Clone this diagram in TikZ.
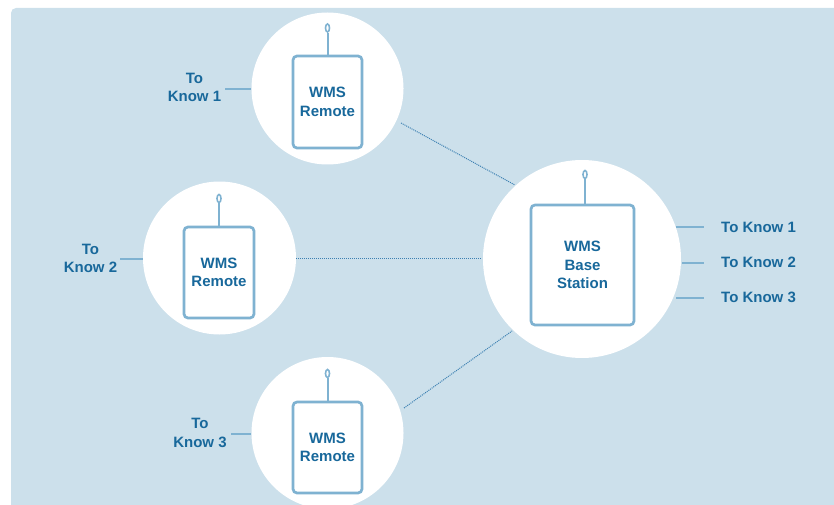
\documentclass[tikz,border=0pt]{standalone}
\usepackage{fontspec}
\setmainfont{Liberation Sans}
\usetikzlibrary{shapes.geometric,calc}
\definecolor{bgblue}{HTML}{CCE0EB}
\definecolor{txtblue}{HTML}{18689B}
\definecolor{boxblue}{HTML}{7FB2D1}
\definecolor{dotblue}{HTML}{3C80B2}
\tikzset{
  disc/.style={circle, fill=white, draw=none, inner sep=0pt},
  unit/.style={draw=boxblue, line width=2.7pt, rounded corners=4pt, fill=white,
    inner sep=0pt, font=\fontsize{15}{18.5}\selectfont\bfseries, text=txtblue, align=center},
  tip/.style={ellipse, draw=boxblue, line width=1.6pt, fill=white, minimum width=4pt, minimum height=8pt, inner sep=0pt},
  ant/.style={draw=boxblue, line width=2pt},
  lbl/.style={font=\fontsize{15}{18.5}\selectfont\bfseries, text=txtblue, align=center, inner sep=0pt},
  lk/.style={draw=boxblue, line width=2.4pt},
  link/.style={draw=dotblue, line width=1pt, dash pattern=on 1pt off 1pt},
}
\begin{document}
\begin{tikzpicture}[x=1pt,y=-1pt]
\useasboundingbox (0,0) rectangle (834,505);
\fill[bgblue, rounded corners=5pt] (11,8) rectangle (850,520);
% circles
\node[disc, minimum size=152pt] (c1) at (327.5,88.5) {};
\node[disc, minimum size=153pt] (c2) at (219.5,258) {};
\node[disc, minimum size=152pt] (c3) at (327.5,433) {};
\node[disc, minimum size=198pt] (cb) at (582,259) {};
% boxes
\node[unit, minimum width=69pt, minimum height=92pt] (b1) at (327.5,102) {WMS\\Remote};
\node[unit, minimum width=70pt, minimum height=91pt] (b2) at (219,272.5) {WMS\\Remote};
\node[unit, minimum width=69pt, minimum height=91pt] (b3) at (327.5,447.5) {WMS\\Remote};
\node[unit, minimum width=103pt, minimum height=120pt] (bb) at (582.5,265) {WMS\\Base\\Station};
% antennas
\node[tip] (a1) at (327.5,28) {};
\node[tip] (a2) at (219,198.5) {};
\node[tip] (a3) at (327.5,373.5) {};
\node[tip] (ab) at (585,174.5) {};
\draw[ant] (b1.north) -- (a1.south);
\draw[ant] (b2.north) -- (a2.south);
\draw[ant] (b3.north) -- (a3.south);
\draw[ant] (bb.north -| ab) -- (ab.south);
% dotted links
\coordinate (p1) at (401,123);
\coordinate (q1) at (515,185);
\coordinate (p2) at (296,258);
\coordinate (q2) at (482,258);
\coordinate (p3) at (404,408);
\coordinate (q3) at (512,331);
\draw[link] (p1) -- (q1);
\draw[link] (p2) -- (q2);
\draw[link] (p3) -- (q3);
% left labels
\node[lbl] (t1) at (194.5,87.5) {To\\Know 1};
\node[lbl] (t2) at (90.5,258.5) {To\\Know 2};
\node[lbl] (t3) at (200,433) {To\\Know 3};
\coordinate (e1) at (225,89);
\coordinate (e2) at (120,259);
\coordinate (e3) at (231,434);
\draw[lk] (e1) -- (c1.west |- e1);
\draw[lk] (e2) -- (c2.west |- e2);
\draw[lk] (e3) -- (c3.west |- e3);
% right labels
\node[lbl, anchor=west] (r1) at (721,227) {To Know 1};
\node[lbl, anchor=west] (r2) at (721,262) {To Know 2};
\node[lbl, anchor=west] (r3) at (721,297) {To Know 3};
\coordinate (s1) at (676,227);
\coordinate (s2) at (682,263);
\coordinate (s3) at (676,298);
\draw[lk] (s1) -- ($(r1.west)+(-17,0)$);
\draw[lk] (s2) -- (704,263);
\draw[lk] (s3) -- (704,298);
\end{tikzpicture}
\end{document}
